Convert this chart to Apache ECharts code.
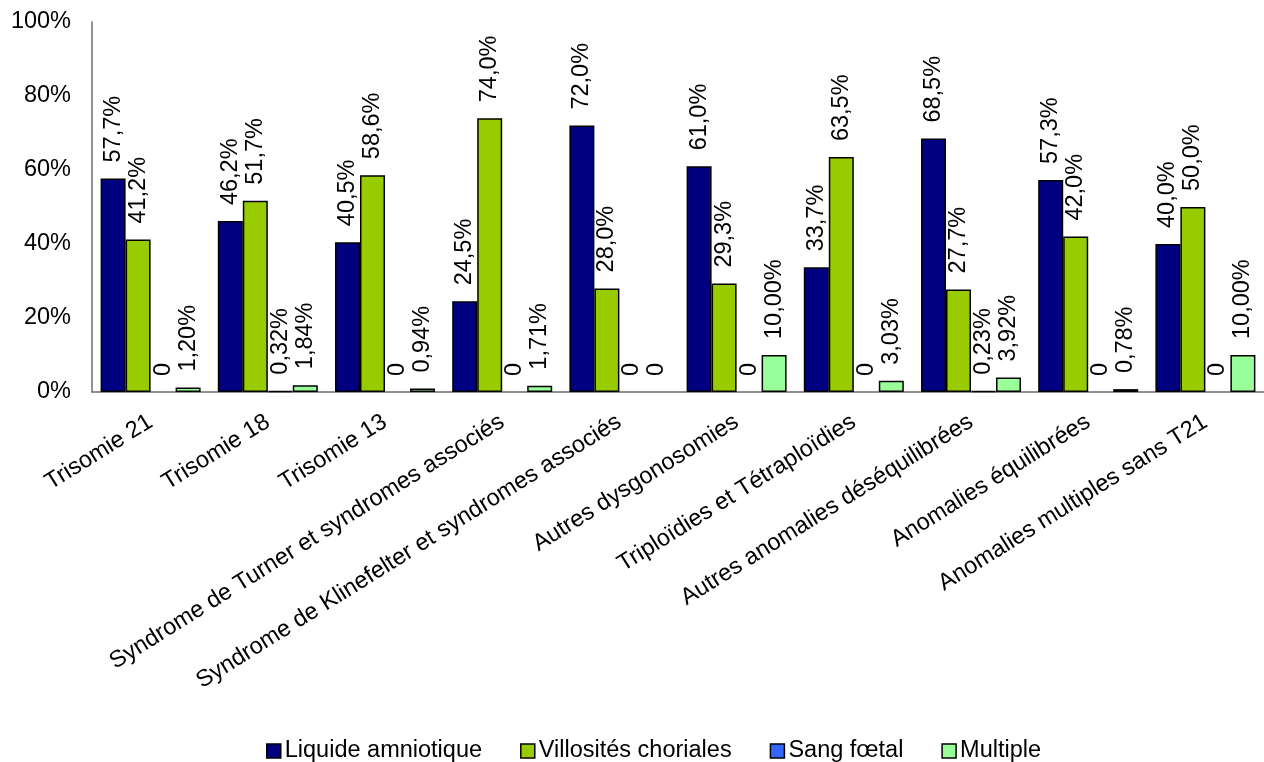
<!DOCTYPE html>
<html>
<head>
<meta charset="utf-8">
<script src="https://cdn.jsdelivr.net/npm/echarts@6/dist/echarts.min.js"></script>
<style>
  html, body { margin: 0; padding: 0; background: #ffffff; }
  #chart { width: 1264px; height: 762px; }
</style>
</head>
<body>
<div id="chart"></div>
<script>
// Categories of chromosomal anomalies
const categories = [
  'Trisomie 21',
  'Trisomie 18',
  'Trisomie 13',
  'Syndrome de Turner et syndromes associés',
  'Syndrome de Klinefelter et syndromes associés',
  'Autres dysgonosomies',
  'Triploïdies et Tétraploïdies',
  'Autres anomalies déséquilibrées',
  'Anomalies équilibrées',
  'Anomalies multiples sans T21'
];

// Share of each sample type (%)
const liquideAmniotique = [57.7, 46.2, 40.5, 24.5, 72.0, 61.0, 33.7, 68.5, 57.3, 40.0];
const villositesChoriales = [41.2, 51.7, 58.6, 74.0, 28.0, 29.3, 63.5, 27.7, 42.0, 50.0];
const sangFoetal = [0, 0.32, 0, 0, 0, 0, 0, 0.23, 0, 0];
const multiple = [1.20, 1.84, 0.94, 1.71, 0, 10.00, 3.03, 3.92, 0.78, 10.00];

// Y axis ticks (%)
const yTicks = [0, 20, 40, 60, 80, 100];

const FONT = 'Liberation Sans, Arial, sans-serif';

function fmt(decimals) {
  return function (p) {
    const v = p.value;
    if (v === 0) return '0';
    return v.toFixed(decimals).replace('.', ',') + '%';
  };
}

// zero-height bars carry no outline
function barData(values) {
  return values.map(v => v === 0 ? { value: v, itemStyle: { borderWidth: 0 } } : v);
}

function makeSeries(name, values, color, decimals) {
  return {
    name: name,
    type: 'bar',
    data: barData(values),
    barWidth: 25,
    barGap: '0%',
    itemStyle: { color: color, borderColor: '#000000', borderWidth: 1.5 },
    label: {
      show: true,
      position: 'top',
      rotate: 90,
      align: 'left',
      verticalAlign: 'middle',
      distance: 15,
      offset: [1, 0],
      fontFamily: FONT,
      fontSize: 23.5,
      color: '#000000',
      formatter: fmt(decimals)
    }
  };
}

const chart = echarts.init(document.getElementById('chart'), null, { renderer: 'canvas' });

chart.setOption({
  animation: false,
  backgroundColor: '#ffffff',
  grid: { left: 92, top: 22, right: -11, bottom: 370 },
  legend: {
    bottom: -6,
    left: 261,
    itemWidth: 14,
    itemHeight: 14,
    itemGap: 38,
    icon: 'rect',
    textStyle: { fontFamily: FONT, fontSize: 23.5, color: '#000000', padding: [0, 0, 0, -1] },
    itemStyle: { borderColor: '#000000', borderWidth: 1.5 }
  },
  xAxis: {
    type: 'category',
    data: categories,
    axisLine: { lineStyle: { color: '#6e6e6e', width: 1.5 } },
    axisTick: { show: false },
    axisLabel: {
      interval: 0,
      rotate: 32,
      margin: 28,
      fontFamily: FONT,
      fontSize: 23.5,
      color: '#000000'
    }
  },
  yAxis: {
    type: 'value',
    min: yTicks[0],
    max: yTicks[yTicks.length - 1],
    interval: yTicks[1] - yTicks[0],
    axisLine: { show: true, lineStyle: { color: '#6e6e6e', width: 1.5 } },
    axisTick: { show: false },
    splitLine: { show: false },
    axisLabel: {
      margin: 21,
      fontFamily: FONT,
      fontSize: 23.5,
      color: '#000000',
      formatter: '{value}%'
    }
  },
  series: [
    makeSeries('Liquide amniotique', liquideAmniotique, '#000080', 1),
    makeSeries('Villosités choriales', villositesChoriales, '#99CC00', 1),
    makeSeries('Sang fœtal', sangFoetal, '#3366FF', 2),
    makeSeries('Multiple', multiple, '#99FF99', 2)
  ]
});
</script>
</body>
</html>
